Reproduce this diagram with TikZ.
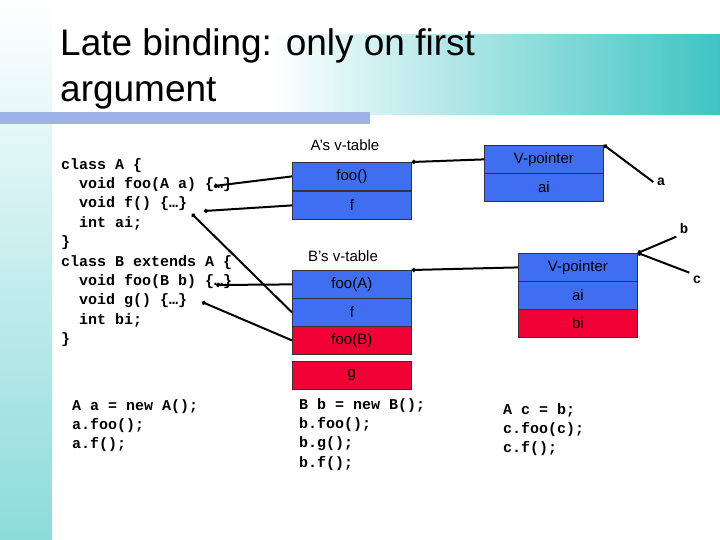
\documentclass[tikz,border=0pt]{standalone}
\usepackage{fontspec}
\setmainfont{Liberation Sans}
\newfontfamily\codefont{Liberation Mono}
\usetikzlibrary{arrows.meta}
\definecolor{vblue}{HTML}{3F6EF0}
\definecolor{vred}{HTML}{F00035}
\definecolor{teal1}{HTML}{3FC4C4}
\definecolor{barblue}{HTML}{9DB3E8}
\tikzset{
 cell/.style={draw=black!80,line width=0.8pt,minimum width=119pt,minimum height=28pt,inner sep=0pt,font=\fontsize{15}{15}\selectfont,anchor=north west},
 bcell/.style={cell,fill=vblue},
 rcell/.style={cell,fill=vred},
 code/.style={font=\codefont\bfseries\fontsize{15}{19.4}\selectfont,align=left,anchor=north west,inner sep=0pt},
 lbl/.style={font=\fontsize{15}{15}\selectfont},
 ptr/.style={line width=2pt,-{Circle[length=4pt]}},
}
\begin{document}
\begin{tikzpicture}[x=1pt,y=-1pt]
\useasboundingbox (0,0) rectangle (720,540);
\fill[white] (0,0) rectangle (720,540);
\shade[top color=white,bottom color=teal1!60] (0,0) rectangle (52,540);
\shade[left color=white,right color=teal1] (270,35) rectangle (720,115);
\fill[barblue] (0,112) rectangle (370,124);
\node[anchor=north west,font=\fontsize{37}{46}\selectfont,align=left,inner sep=0pt] (title) at (60,28) {Late binding: only on first\\argument};
% code
\node[code] (ca) at (61,158) {class A \{\\\ \ void foo(A a) \{…\}\\\ \ void f() \{…\}\\\ \ int ai;\\\}\\class B extends A \{\\\ \ void foo(B b) \{…\}\\\ \ void g() \{…\}\\\ \ int bi;\\\}};
\coordinate (afoo) at (214,186);
\coordinate (af) at (204,211);
\coordinate (afend) at (192,214);
\coordinate (bfoo) at (216,285);
\coordinate (bg) at (202,302);
% A vtable
\node[lbl] (alab) at (345,145) {A’s v-table};
\node[bcell] (a1) at (292,162) {foo()};
\node[bcell] (a2) at (292,191) {f};
% B vtable
\node[lbl] (blab) at (343,256) {B’s v-table};
\node[bcell] (b1) at (292,270) {foo(A)};
\node[bcell] (b2) at (292,298) {f};
\node[rcell] (b3) at (292,326) {foo(B)};
\node[rcell] (b4) at (292,361) {g};
% objects
\node[bcell] (o1) at (484,145) {V-pointer};
\node[bcell] (o2) at (484,173) {ai};
\node[bcell] (c1) at (518,253) {V-pointer};
\node[bcell] (c2) at (518,281) {ai};
\node[rcell] (c3) at (518,309) {bi};
\node[font=\codefont\bfseries\fontsize{14}{14}\selectfont] (la) at (661,182) {a};
\node[font=\codefont\bfseries\fontsize{14}{14}\selectfont] (lb) at (684,228) {b};
\node[font=\codefont\bfseries\fontsize{14}{14}\selectfont] (lc) at (697,280) {c};
% pointers
\draw[ptr] (a1.west) -- (afoo);
\draw[ptr] (a2.west) -- (af);
\draw[ptr] (b1.west) -- (bfoo);
\draw[ptr] (b2.west) -- (afend);
\draw[ptr] (b3.west) -- (bg);
\draw[ptr] (o1.west) -- (a1.north east);
\draw[ptr] (c1.west) -- (b1.north east);
\draw[ptr] (la.west) -- (o1.north east);
\draw[ptr] (lb.south west) -- (c1.north east);
\draw[ptr] (lc.north west) -- (c1.north east);
% bottom code
\node[code] (m1) at (72,399) {A a = new A();\\a.foo();\\a.f();};
\node[code] (m2) at (299,398) {B b = new B();\\b.foo();\\b.g();\\b.f();};
\node[code] (m3) at (503,403) {A c = b;\\c.foo(c);\\c.f();};
\end{tikzpicture}
\end{document}
